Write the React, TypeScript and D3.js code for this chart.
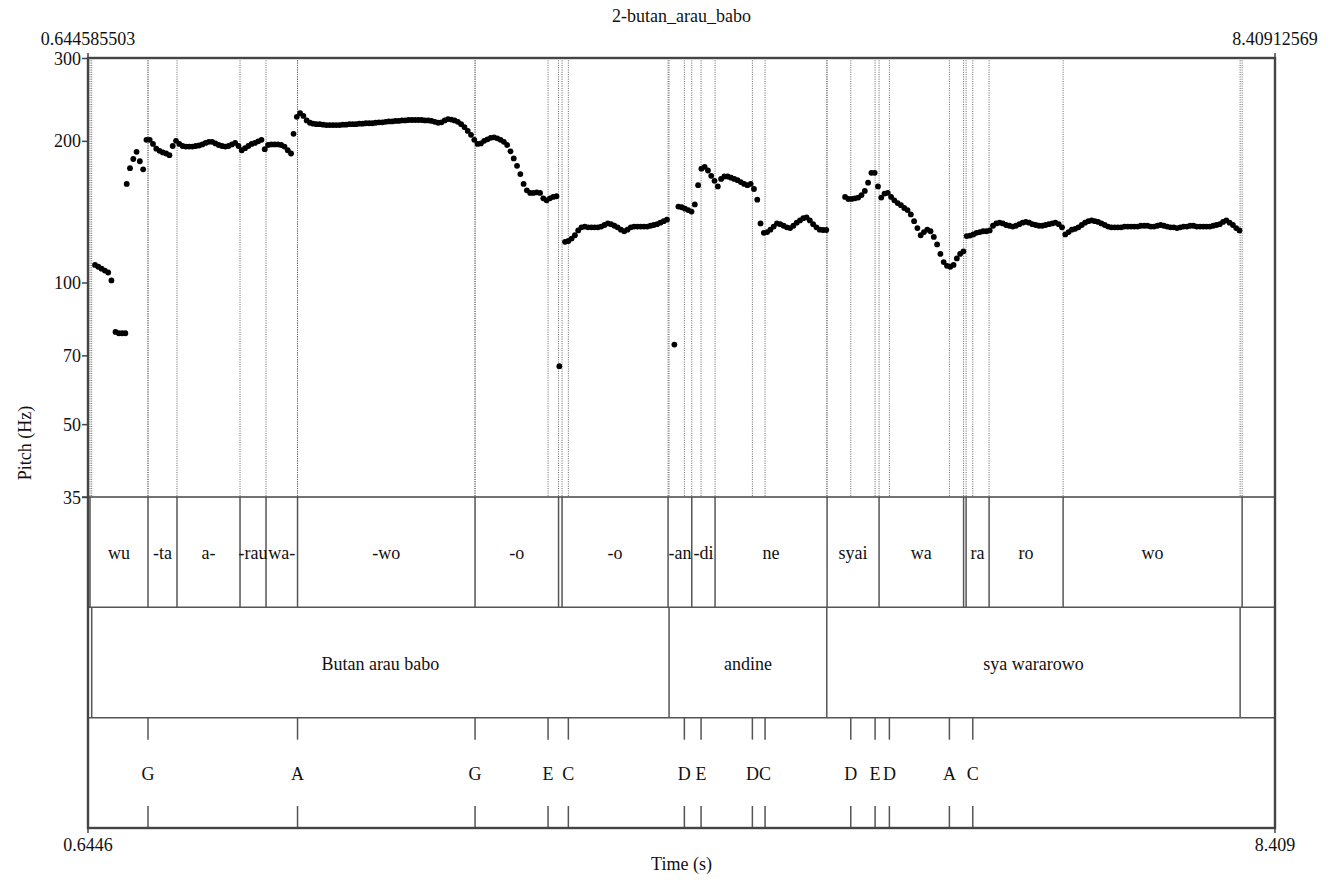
import React, { useRef, useEffect } from "react";
import * as d3 from "d3";

// Praat-style picture: pitch contour (log Hz) above a 3-tier TextGrid
const TITLE = "2-butan_arau_babo";
const T_START = 0.644585503;
const T_END = 8.40912569;
const F_MIN = 35;
const F_MAX = 300;
const FRAME_STEP = 0.0215; // s between pitch frames

const pitchTicks = [35, 50, 70, 100, 200, 300];

// voiced stretches: start time (s) and one f0 value (Hz) per frame
const pitchRuns = [
  { start: 0.6904, hz: [109, 108, 107, 106, 105, 101] },
  { start: 0.8245, hz: [78.5, 78, 78, 78] },
  {
    start: 0.8978,
    hz: [
      162, 175, 183, 189.5, 181, 174, 201, 201, 197, 192.5, 190.5, 189, 188,
      186.5, 195, 200, 197, 195, 194.5, 194.5, 194.5, 195, 195.5, 196.5, 198,
      199, 199, 197.5, 196, 195, 194.5, 195, 196.5, 198, 195, 191, 193, 195,
      197, 198, 199.5, 201, 192, 196, 196.5, 196.5, 196.5, 196, 194.5, 191,
      188,
    ],
  },
  {
    start: 1.989,
    hz: [
      207, 225, 229, 226, 221, 218.5, 217.5, 217, 217, 216.5, 216, 216, 216,
      216, 216, 216.5, 216.5, 217, 217, 217, 217.5, 217.5, 218, 218, 218,
      218.5, 219, 219, 219.5, 220, 220, 220.5, 220.5, 221, 221, 221.5, 221.5,
      221.5, 221.5, 221.5, 221, 221, 220.5, 219.5, 218.5, 219, 221, 222.5, 222,
      221, 219.5, 217, 214, 210, 206, 201, 197, 197.5, 200, 201.5, 203, 203.5,
      202.5, 201, 199, 196, 190, 183.5, 177, 170, 162, 157, 155, 155, 155.5,
      155, 151, 149.5, 151, 152, 152.5,
    ],
  },
  { start: 3.7278, hz: [66.4] },
  {
    start: 3.7651,
    hz: [
      122, 122.5, 124, 126, 129, 131, 131.5, 131, 131, 131, 131, 131.5, 132.5,
      133.5, 133, 132, 131, 129.5, 128.5, 129.5, 131, 131.5, 131.5, 131.5,
      131.5, 131.5, 132, 132.5, 133, 134, 135, 136,
    ],
  },
  { start: 4.4802, hz: [73.8] },
  {
    start: 4.5064,
    hz: [
      145, 144.5, 143.5, 142.5, 141.5, 146.5, 161, 174.5, 176, 173, 168.5,
      164.5, 160, 166, 168, 168, 167, 166, 165, 163.5, 162, 161, 162, 158, 150,
      133.5, 127.5, 128, 129.5, 131.5, 133.5, 133, 132, 131, 130.5, 132, 134,
      135.5, 137, 137.5, 135.5, 133, 131, 129.5, 129.3, 129.3,
    ],
  },
  {
    start: 5.5969,
    hz: [
      152, 150.5, 150.5, 151, 151.5, 153.4, 156.5, 163, 171, 171, 160, 151.5,
      154.5, 155, 152, 149.5, 147.5, 146, 144, 142.5, 139.5, 135, 130.5, 126,
      128, 129.5, 128.5, 125, 120.5, 115, 110.5, 108.5, 108, 109, 112.5, 115,
      116.5, 125.5, 125.8, 126.5, 127.5, 128, 128.5, 128.5, 129, 132, 133.5,
      134, 133.5, 132.5, 132, 131.5, 132, 133, 134, 134.5, 134, 133, 132.5, 132,
      132, 132.5, 133, 133.5, 134, 133, 131, 126.5, 128, 129.5, 130, 131, 132.5,
      134, 135, 135.5, 135, 134.5, 133.5, 132.5, 131.5, 131, 131, 131, 131,
      131.5, 131.5, 131.5, 131.5, 131.5, 132, 132, 132, 131.5, 131.5, 132,
      132.5, 132, 131.5, 131, 131, 130.5, 131, 131.5, 131.5, 132, 132, 131.5,
      131.5, 131.5, 131.5, 131.5, 132, 132.5, 133, 134.5, 135.5, 134, 132.5,
      130.5, 129,
    ],
  },
];

// tier 1: syllables (interval tier)
const syllableBounds = [
  0.6577, 1.0371, 1.2268, 1.639, 1.8091, 2.0152, 3.1764, 3.7226, 3.7455,
  4.439, 4.594, 4.7464, 5.4791, 5.8193, 6.3721, 6.3885, 6.5389, 7.0231,
  8.1941,
];
const syllableLabels = [
  "", "wu", "-ta", "a-", "-rau", "wa-", "-wo", "-o", "", "-o", "-an", "-di",
  "ne", "syai", "wa", "", "ra", "ro", "wo", "",
];

// tier 2: words (interval tier)
const wordBounds = [0.6688, 4.4455, 5.4772, 8.181];
const wordLabels = ["", "Butan arau babo", "andine", "sya wararowo", ""];

// tier 3: tones (point tier)
const toneTimes = [
  1.0371, 2.0152, 3.1764, 3.6539, 3.7867, 4.5456, 4.6548, 4.9905, 5.0735,
  5.6342, 5.7932, 5.8867, 6.2792, 6.4323,
];
const toneLabels = ["G", "A", "G", "E", "C", "D", "E", "D", "C", "D", "E", "D", "A", "C"];

const FONT = "'Liberation Serif', 'Times New Roman', serif";

const PitchTextGrid = ({ width = 1334, height = 880 }) => {
  const d3Container = useRef<SVGSVGElement>(null);

  useEffect(() => {
    const container = d3Container.current;
    if (!container) return;
    const margin = { top: 58, right: 59, bottom: 52, left: 88 };
    const plotRight = width - margin.right;
    const plotBottom = height - margin.bottom;
    const pitchBottom = 497;
    const tierH = (plotBottom - pitchBottom) / 3;
    const tierTop = (i) => pitchBottom + i * tierH;

    d3.select(container).selectChildren().remove();
    const svg = d3
      .select(container)
      .append("g")
      .attr("font-family", FONT)
      .attr("font-size", 18)
      .attr("fill", "#111");

    const x = d3.scaleLinear().domain([T_START, T_END]).range([margin.left, plotRight]);
    const y = d3.scaleLog().domain([F_MIN, F_MAX]).range([pitchBottom, margin.top]);

    // dotted boundary lines through the pitch area
    const allMarks = [...syllableBounds, ...wordBounds, ...toneTimes];
    svg
      .append("g")
      .selectAll("line")
      .data(allMarks)
      .join("line")
      .attr("x1", (d) => x(d))
      .attr("x2", (d) => x(d))
      .attr("y1", margin.top)
      .attr("y2", pitchBottom)
      .attr("stroke", "#666")
      .attr("stroke-width", 1)
      .attr("stroke-dasharray", "1 1.3");

    // pitch dots
    const dots = pitchRuns.flatMap((r) =>
      r.hz.map((f, i) => ({ t: r.start + i * FRAME_STEP, f }))
    );
    svg
      .append("g")
      .selectAll("circle")
      .data(dots)
      .join("circle")
      .attr("cx", (d) => x(d.t))
      .attr("cy", (d) => y(d.f))
      .attr("r", 2.9)
      .attr("fill", "#000");

    // interval tiers
    const drawIntervals = (bounds, labels, i) => {
      const top = tierTop(i);
      const edges = [T_START, ...bounds, T_END];
      const g = svg.append("g");
      g.selectAll("line")
        .data(bounds)
        .join("line")
        .attr("x1", (d) => x(d))
        .attr("x2", (d) => x(d))
        .attr("y1", top)
        .attr("y2", top + tierH)
        .attr("stroke", "#555")
        .attr("stroke-width", 1.5);
      g.selectAll("text")
        .data(labels.map((l, k) => ({ l, a: edges[k], b: edges[k + 1] })).filter((d) => d.l))
        .join("text")
        .attr("x", (d) => (x(d.a) + x(d.b)) / 2)
        .attr("y", top + tierH / 2 + 7)
        .attr("text-anchor", "middle")
        .text((d) => d.l);
    };
    drawIntervals(syllableBounds, syllableLabels, 0);
    drawIntervals(wordBounds, wordLabels, 1);

    // point tier
    const ptTop = tierTop(2);
    const pts = toneTimes.map((t, k) => ({ t, l: toneLabels[k] }));
    const pg = svg.append("g");
    pg.selectAll("line.up")
      .data(pts)
      .join("line")
      .attr("x1", (d) => x(d.t))
      .attr("x2", (d) => x(d.t))
      .attr("y1", ptTop)
      .attr("y2", ptTop + 22)
      .attr("stroke", "#555")
      .attr("stroke-width", 1.5);
    pg.selectAll("line.down")
      .data(pts)
      .join("line")
      .attr("x1", (d) => x(d.t))
      .attr("x2", (d) => x(d.t))
      .attr("y1", plotBottom - 22)
      .attr("y2", plotBottom)
      .attr("stroke", "#555")
      .attr("stroke-width", 1.5);
    pg.selectAll("text")
      .data(pts)
      .join("text")
      .attr("x", (d) => x(d.t))
      .attr("y", ptTop + tierH / 2 + 7)
      .attr("text-anchor", "middle")
      .text((d) => d.l);

    // tier separators
    svg
      .append("g")
      .selectAll("line")
      .data([1, 2])
      .join("line")
      .attr("x1", margin.left)
      .attr("x2", plotRight)
      .attr("y1", (d) => tierTop(d))
      .attr("y2", (d) => tierTop(d))
      .attr("stroke", "#555")
      .attr("stroke-width", 1.5);

    // pitch axis
    const yAxis = svg
      .append("g")
      .attr("transform", `translate(${margin.left}, 0)`)
      .call(
        d3.axisLeft(y).tickValues(pitchTicks).tickFormat(d3.format("d")).tickSize(6).tickPadding(1)
      );
    yAxis.select(".domain").remove();
    yAxis.selectAll(".tick line").attr("stroke", "#444").attr("stroke-width", 1.5);
    yAxis
      .selectAll(".tick text")
      .attr("font-family", FONT)
      .attr("font-size", 18)
      .attr("fill", "#111")
      .attr("dy", "0.34em");
    yAxis.attr("font-size", null).attr("font-family", null);

    // separator between pitch area and tiers
    svg
      .append("line")
      .attr("x1", margin.left - 6)
      .attr("x2", plotRight)
      .attr("y1", pitchBottom)
      .attr("y2", pitchBottom)
      .attr("stroke", "#444")
      .attr("stroke-width", 1.5);

    // frame
    svg
      .append("rect")
      .attr("x", margin.left)
      .attr("y", margin.top)
      .attr("width", plotRight - margin.left)
      .attr("height", plotBottom - margin.top)
      .attr("fill", "none")
      .attr("stroke", "#444")
      .attr("stroke-width", 2.4);

    // end ticks above and below the frame
    [margin.left, plotRight].forEach((px) => {
      svg.append("line").attr("x1", px).attr("x2", px).attr("y1", margin.top - 5).attr("y2", margin.top).attr("stroke", "#444").attr("stroke-width", 1.5);
      svg.append("line").attr("x1", px).attr("x2", px).attr("y1", plotBottom).attr("y2", plotBottom + 5).attr("stroke", "#444").attr("stroke-width", 1.5);
    });

    // time range labels
    svg.append("text").attr("x", x(T_START)).attr("y", 45).attr("text-anchor", "middle").text(String(T_START));
    svg.append("text").attr("x", x(T_END)).attr("y", 45).attr("text-anchor", "middle").text(String(T_END));
    svg.append("text").attr("x", x(T_START)).attr("y", 851).attr("text-anchor", "middle").text(T_START.toFixed(4));
    svg.append("text").attr("x", x(T_END)).attr("y", 851).attr("text-anchor", "middle").text(T_END.toFixed(3));

    // titles
    svg.append("text").attr("x", (margin.left + plotRight) / 2).attr("y", 22).attr("text-anchor", "middle").text(TITLE);
    svg.append("text").attr("x", (margin.left + plotRight) / 2).attr("y", 870).attr("text-anchor", "middle").text("Time (s)");
    svg
      .append("text")
      .attr("text-anchor", "middle")
      .attr("transform", `translate(31, ${(margin.top + plotBottom) / 2}) rotate(-90)`)
      .text("Pitch (Hz)");
  }, [width, height]);

  return (
    <svg
      ref={d3Container}
      width={width}
      height={height}
      style={{ position: "absolute", left: 0, top: 0, background: "#fff" }}
    />
  );
};

export default function App() {
  return <PitchTextGrid />;
}
